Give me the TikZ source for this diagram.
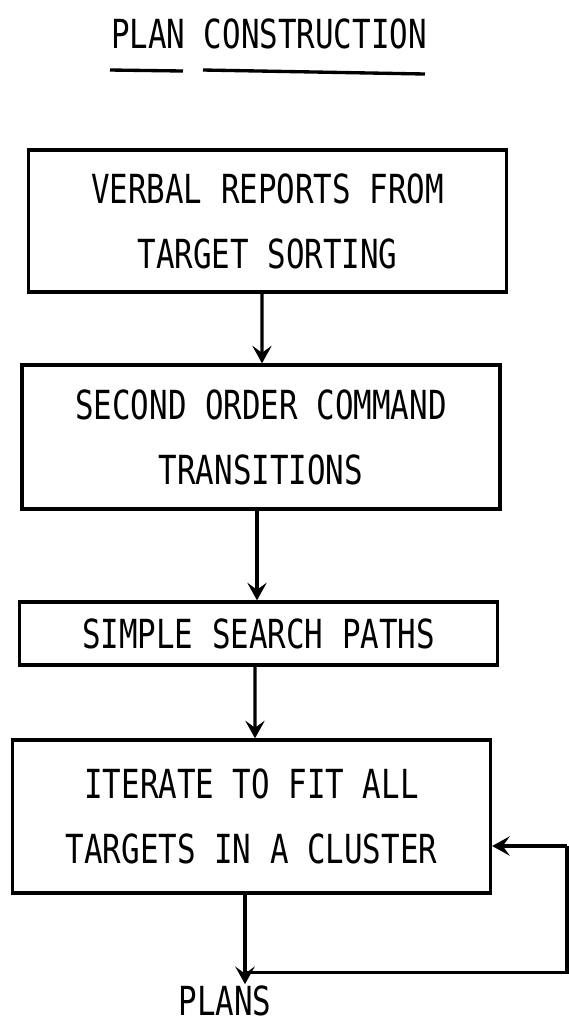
\documentclass[tikz,border=0pt]{standalone}
\usepackage{fontspec}
\setmonofont{DejaVu Sans Mono}[FakeStretch=0.77]
\usetikzlibrary{arrows.meta}
\tikzset{every picture/.append style={line width=1.9pt,
    >={Stealth[length=10pt, width=11pt, inset=4pt]}}}
\tikzset{
    every node/.style={font=\ttfamily\fontsize{22.8}{37}\selectfont,
        align=center, inner sep=0pt},
    stage/.style={draw, rectangle, minimum width=9.56cm}
}

\begin{document}
\begin{tikzpicture}
  \useasboundingbox (0cm, 0cm) rectangle (11.36cm, -20.48cm);

  \node (title) at (5.38cm, -0.68cm) {PLAN CONSTRUCTION};
  \node (reports) [stage, minimum height=2.84cm] at (5.35cm, -4.42cm)
    {VERBAL REPORTS FROM\\TARGET SORTING};
  \node (cmds) [stage, minimum height=2.88cm] at (5.22cm, -8.74cm)
    {SECOND ORDER COMMAND\\TRANSITIONS};
  \node (paths) [stage, minimum height=1.26cm] at (5.17cm, -12.67cm)
    {SIMPLE SEARCH PATHS};
  \node (iter) [stage, minimum height=3.06cm] at (5.03cm, -16.33cm)
    {ITERATE TO FIT ALL\\TARGETS IN A CLUSTER};
  \node (plans) at (4.50cm, -20.02cm) {PLANS};

  \coordinate (split) at (4.9cm, -19.45cm);
  \coordinate (loop_bot) at (11.34cm, -19.45cm);
  \coordinate (loop_top) at (11.34cm, -16.92cm);

  % underlined heading
  \draw (2.20cm, -1.40cm) -- (3.66cm, -1.42cm);
  \draw (4.06cm, -1.40cm) -- (8.50cm, -1.48cm);

  \draw ([xshift=-0.11cm]reports.south) edge[->] ([xshift=0.02cm]cmds.north);
  \draw ([xshift=-0.08cm]cmds.south) edge[->] ([xshift=-0.03cm]paths.north);
  \draw ([xshift=-0.07cm]paths.south) edge[->] ([xshift=0.07cm]iter.north);
  \draw[->] (iter.south -| split) -- (plans.north -| split);

  % feedback round the last stage
  \draw (split) -- (loop_bot) -- (loop_top);
  \draw[->] (loop_top) -- (loop_top -| iter.east);
\end{tikzpicture}
\end{document}
